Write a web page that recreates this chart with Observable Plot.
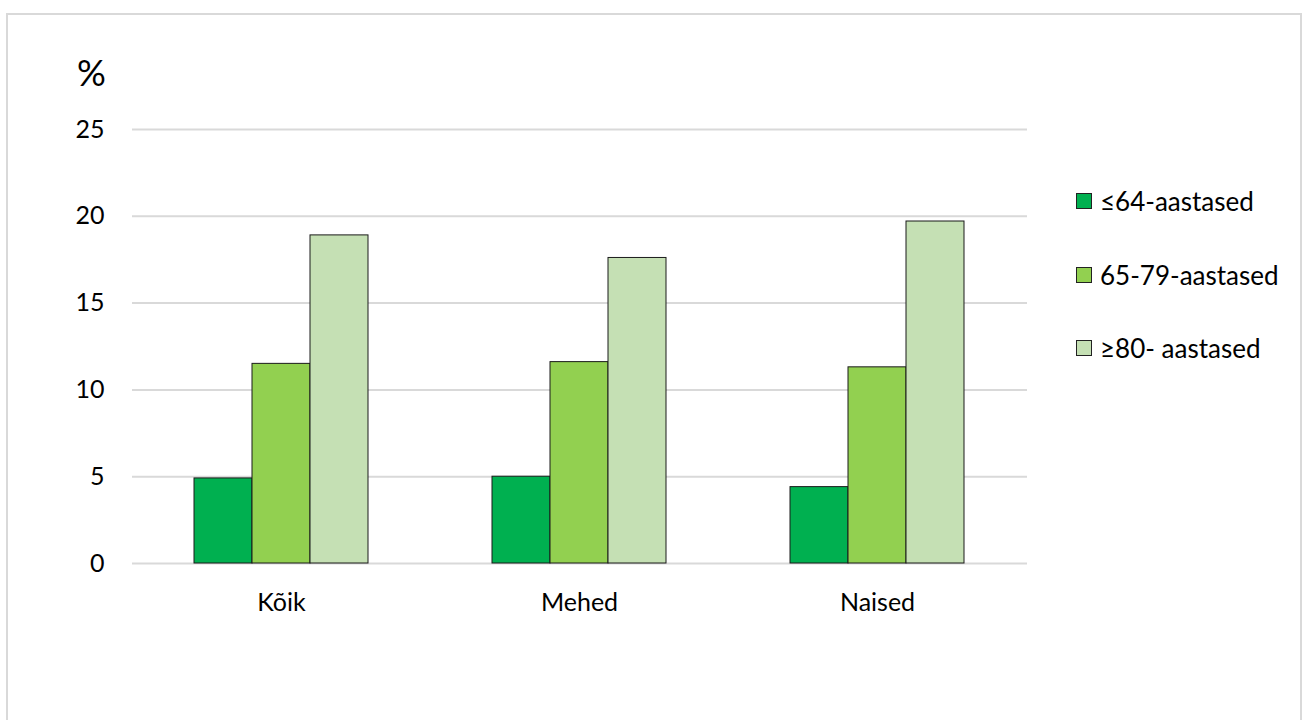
<!DOCTYPE html>
<html><head><meta charset="utf-8">
<script src="https://cdn.jsdelivr.net/npm/d3@7"></script>
<script src="https://cdn.jsdelivr.net/npm/@observablehq/plot@0.6"></script>
<style>
body{margin:0;background:#fff;font-family:Lato,"Open Sans",sans-serif;}
#wrap{position:relative;width:1304px;height:720px;overflow:hidden}
#frame{position:absolute;left:6px;top:13px;width:1296px;height:740px;border:2px solid #d9d9d9;box-sizing:border-box}
.layer{position:absolute;left:0;top:0}
#legend{position:absolute;left:1076px;top:186px;font-size:26px;color:#000}
.item{display:flex;align-items:center;height:30px;margin-bottom:43.5px}
.sw{width:14px;height:14px;border:1px solid #222;margin-right:8px}
</style></head>
<body><div id="wrap"><div id="frame"></div><div id="bg" class="layer"></div><div id="fg" class="layer"></div><div id="legend"></div></div>
<script>
const groups = ["Kõik", "Mehed", "Naised"];
const series = ["≤64-aastased", "65-79-aastased", "≥80- aastased"];
const colors = ["#00B050", "#92D050", "#C5E0B4"];
const v64 = [4.9, 5.0, 4.4];
const v6579 = [11.5, 11.6, 11.3];
const v80 = [18.9, 17.6, 19.7];
const yTicks = [0, 5, 10, 15, 20, 25];

const rows = [];
groups.forEach((g, i) => {
  rows.push({group: g, series: series[0], value: v64[i]});
  rows.push({group: g, series: series[1], value: v6579[i]});
  rows.push({group: g, series: series[2], value: v80[i]});
});

const W = 1304, H = 720, mL = 132, mR = 277, mT = 129, mB = 157;
const common = {width: W, height: H, marginLeft: mL, marginRight: mR, marginTop: mT, marginBottom: mB,
  style: {fontFamily: "Lato, 'Open Sans', sans-serif", background: "transparent", overflow: "visible"}};

const bg = Plot.plot({
  ...common,
  y: {domain: [0, 25], ticks: yTicks, label: null},
  marks: [
    Plot.ruleY(yTicks, {stroke: "#d9d9d9", strokeWidth: 2}),
    Plot.axisY({ticks: yTicks, tickSize: 0, tickPadding: 28, fontSize: 25, fill: "#000", label: null}),
    Plot.text(["%"], {frameAnchor: "top-left", textAnchor: "middle", lineAnchor: "middle", dx: -41, dy: -55, fontSize: 36, fill: "#000"})
  ]
});
document.getElementById("bg").appendChild(bg);

const fg = Plot.plot({
  ...common,
  y: {domain: [0, 25], axis: null},
  x: {domain: series, axis: null, padding: 0},
  fx: {domain: groups, paddingInner: 0.416, paddingOuter: 0.208, label: null, axis: "bottom", tickSize: 0, tickPadding: 30},
  color: {domain: series, range: colors},
  marks: [
    Plot.barY(rows, {fx: "group", x: "series", y: "value", fill: "series", stroke: "#1a1a1a", strokeWidth: 1})
  ]
});
fg.querySelectorAll("g[aria-label^='fx-axis'] text").forEach(t => { t.setAttribute("fill", "#000"); t.style.fontSize = "25px"; });
document.getElementById("fg").appendChild(fg);

const leg = document.getElementById("legend");
series.forEach((s, i) => {
  const it = document.createElement("div"); it.className = "item";
  const sw = document.createElement("div"); sw.className = "sw"; sw.style.background = colors[i];
  const tx = document.createElement("span"); tx.textContent = s;
  it.appendChild(sw); it.appendChild(tx); leg.appendChild(it);
});
</script></body></html>
